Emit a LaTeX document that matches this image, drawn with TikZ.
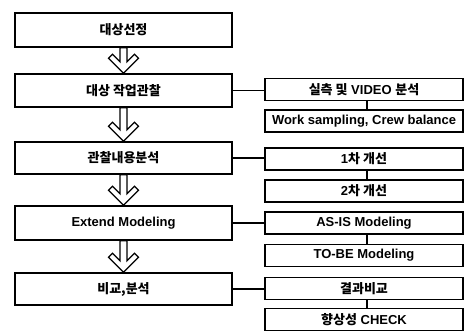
\documentclass[tikz,border=0pt]{standalone}
\usepackage{fontspec}
\setmainfont{Liberation Sans}
\newfontfamily\kr{Noto Sans CJK KR}
\usetikzlibrary{calc}
\tikzset{
  box/.style={draw=black, fill=white, line width=1.4pt, inner sep=0pt, font=\fontsize{13}{15}\selectfont\bfseries},
  lbox/.style={box, minimum width=217pt},
  rbox/.style={box, minimum width=198pt, minimum height=22pt},
  link/.style={draw=black, line width=1.2pt},
  hollow/.style={draw=black, fill=white, line width=1.3pt, line join=miter},
}
\newcommand\krt[1]{{\kr\fontsize{13}{15}\selectfont\bfseries #1}}
\newcommand\flowarrow[2]{%
  \path[hollow] let \p1=(#1), \p2=(#2) in
    (\x1-3.5pt,\y1) -- (\x1-3.5pt,\y2+11.5pt) -- (\x1-11pt,\y2+19pt) -- (\x1-15pt,\y2+15pt)
    -- (\x1,\y2) -- (\x1+15pt,\y2+15pt) -- (\x1+11pt,\y2+19pt) -- (\x1+3.5pt,\y2+11.5pt)
    -- (\x1+3.5pt,\y1) -- cycle;}
\begin{document}
\begin{tikzpicture}[x=1pt,y=-1pt]
\useasboundingbox (0,0) rectangle (465,332);
% left column
\node[lbox, minimum height=34pt] (l1) at (123.5,30) {\krt{대상선정}};
\node[lbox, minimum height=33pt] (l2) at (123.5,90.5) {\krt{대상 작업관찰}};
\node[lbox, minimum height=32pt] (l3) at (123.5,158) {\krt{관찰내용분석}};
\node[lbox, minimum height=34pt] (l4) at (123.5,223) {Extend Modeling};
\node[lbox, minimum height=32pt] (l5) at (123.5,289) {\krt{비교,분석}};
% right column
\node[rbox] (r1) at (364,89.5) {\krt{실측 및} VIDEO \krt{분석}};
\node[rbox] (r2) at (364,121) {Work sampling, Crew balance};
\node[rbox] (r3) at (364,159) {1\krt{차 개선}};
\node[rbox] (r4) at (364,191) {2\krt{차 개선}};
\node[rbox] (r5) at (364,223) {AS-IS Modeling};
\node[rbox] (r6) at (364,255.5) {TO-BE Modeling};
\node[rbox] (r7) at (364,288.5) {\krt{결과비교}};
\node[rbox] (r8) at (364,319.5) {\krt{향상성} CHECK};
% arrows
\flowarrow{l1.south}{l2.north}
\flowarrow{l2.south}{l3.north}
\flowarrow{l3.south}{l4.north}
\flowarrow{l4.south}{l5.north}
% connectors
\draw[link] (l2.east) -- (l2.east -| r1.west);
\draw[link] (l3.east) -- (l3.east -| r3.west);
\draw[link] (l4.east) -- (l4.east -| r5.west);
\draw[link] (l5.east) -- (l5.east -| r7.west);
\draw[link] ([xshift=3pt]r1.south) -- ([xshift=3pt]r2.north);
\draw[link] ([xshift=3pt]r3.south) -- ([xshift=3pt]r4.north);
\draw[link] ([xshift=3pt]r5.south) -- ([xshift=3pt]r6.north);
\draw[link] ([xshift=3pt]r7.south) -- ([xshift=3pt]r8.north);
\end{tikzpicture}
\end{document}
